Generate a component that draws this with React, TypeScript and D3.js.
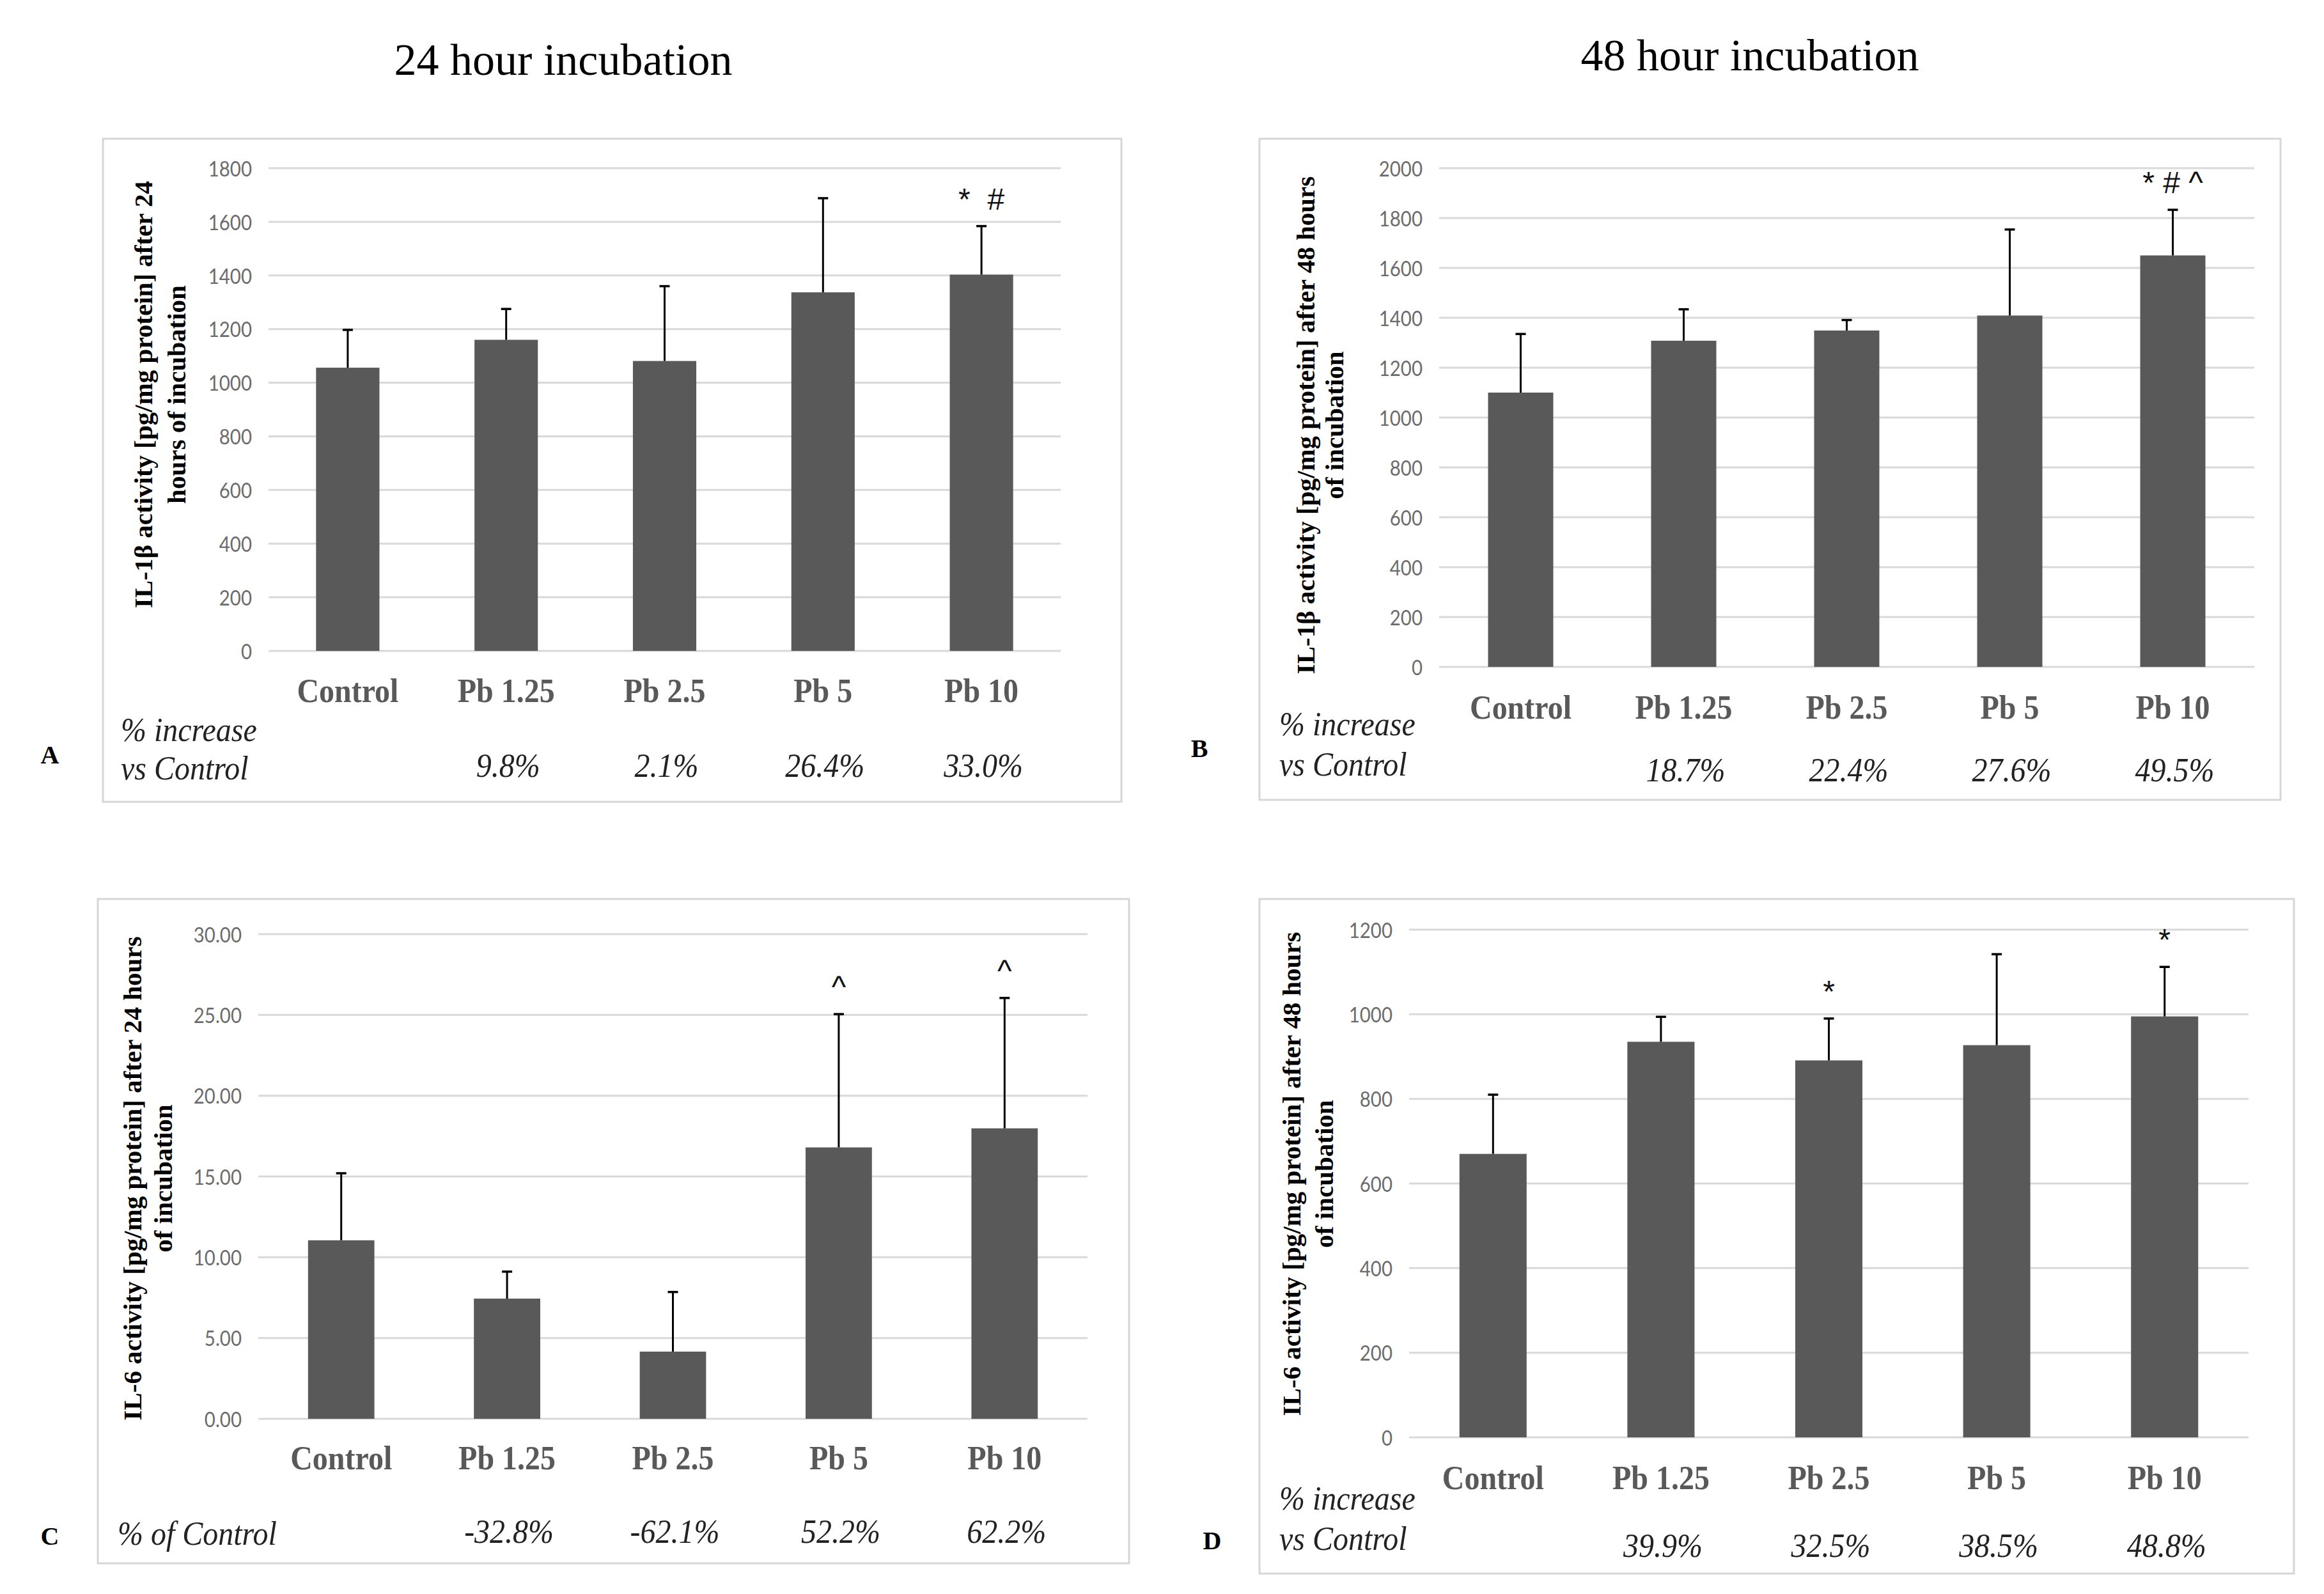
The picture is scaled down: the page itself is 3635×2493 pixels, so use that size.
import React from "react";
import * as d3 from "d3";

// ---------------- DATA ----------------
const categories = ["Control", "Pb 1.25", "Pb 2.5", "Pb 5", "Pb 10"];

// A: IL-1β, 24 h
const il1b24Values = [1056, 1160, 1081, 1337, 1403];
const il1b24Errors = [141, 115, 279, 351, 181];
const il1b24Percents = ["", "9.8%", "2.1%", "26.4%", "33.0%"];
const il1b24Marks = ["", "", "", "", "*  #"];

// B: IL-1β, 48 h
const il1b48Values = [1100, 1308, 1349, 1409, 1650];
const il1b48Errors = [235, 126, 42, 345, 183];
const il1b48Percents = ["", "18.7%", "22.4%", "27.6%", "49.5%"];
const il1b48Marks = ["", "", "", "", "* # ^"];

// C: IL-6, 24 h
const il624Values = [11.05, 7.44, 4.16, 16.8, 17.98];
const il624Errors = [4.15, 1.67, 3.69, 8.25, 8.07];
const il624Percents = ["", "-32.8%", "-62.1%", "52.2%", "62.2%"];
const il624Marks = ["", "", "", "^", "^"];

// D: IL-6, 48 h
const il648Values = [670, 935, 891, 927, 995];
const il648Errors = [140, 59, 99, 215, 117];
const il648Percents = ["", "39.9%", "32.5%", "38.5%", "48.8%"];
const il648Marks = ["", "", "*", "", "*"];

const titles = ["24 hour incubation", "48 hour incubation"];

// ---------------- STYLES ----------------
const BAR = "#595959";
const GRID = "#d9d9d9";
const BORDER = "#d6d6d6";
const TICK = "#6b6b6b";
const SERIF = "'Liberation Serif', 'Times New Roman', serif";
const SANS = "Lato, 'Open Sans', 'Liberation Sans', sans-serif";
const MARKFONT = "'Liberation Sans', Arial, sans-serif";

type PanelCfg = {
  letter: string;
  letterPos: [number, number];
  box: [number, number, number, number];
  plotX: [number, number];
  y0: number;
  yTop: number;
  max: number;
  step: number;
  fmt: (v: number) => string;
  values: number[];
  errors: number[];
  percents: string[];
  marks: string[];
  catY: number;
  rowLabels: string[];
  rowLabelX: number;
  rowLabelY: number[];
  percentY: number;
  yLabel: string[];
  yLabelX: [number, number];
  yLabelY: number;
};

const fmtInt = d3.format("d");
const fmt2 = d3.format(".2f");

const panels: PanelCfg[] = [
  {
    letter: "A",
    letterPos: [78, 1180],
    box: [161, 217, 1754, 1254],
    plotX: [420, 1659],
    y0: 1018,
    yTop: 263,
    max: 1800,
    step: 200,
    fmt: fmtInt,
    values: il1b24Values,
    errors: il1b24Errors,
    percents: il1b24Percents,
    marks: il1b24Marks,
    catY: 1080,
    rowLabels: ["% increase", "vs Control"],
    rowLabelX: 189,
    rowLabelY: [1141, 1201],
    percentY: 1197,
    yLabel: ["IL-1β activity [pg/mg protein] after 24", "hours of incubation"],
    yLabelX: [224, 276],
    yLabelY: 617,
  },
  {
    letter: "B",
    letterPos: [1876, 1170],
    box: [1970, 217, 3567, 1251],
    plotX: [2251, 3526],
    y0: 1043,
    yTop: 263,
    max: 2000,
    step: 200,
    fmt: fmtInt,
    values: il1b48Values,
    errors: il1b48Errors,
    percents: il1b48Percents,
    marks: il1b48Marks,
    catY: 1106,
    rowLabels: ["% increase", "vs Control"],
    rowLabelX: 2001,
    rowLabelY: [1132, 1195],
    percentY: 1204,
    yLabel: ["IL-1β activity [pg/mg protein] after 48 hours", "of incubation"],
    yLabelX: [2042, 2087],
    yLabelY: 665,
  },
  {
    letter: "C",
    letterPos: [78, 2402],
    box: [153, 1406, 1766, 2445],
    plotX: [404, 1701],
    y0: 2219,
    yTop: 1461,
    max: 30,
    step: 5,
    fmt: fmt2,
    values: il624Values,
    errors: il624Errors,
    percents: il624Percents,
    marks: il624Marks,
    catY: 2280,
    rowLabels: ["% of Control"],
    rowLabelX: 184,
    rowLabelY: [2398],
    percentY: 2395,
    yLabel: ["IL-6 activity [pg/mg protein] after 24 hours", "of incubation"],
    yLabelX: [207, 255],
    yLabelY: 1843,
  },
  {
    letter: "D",
    letterPos: [1896, 2409],
    box: [1970, 1406, 3588, 2461],
    plotX: [2204, 3517],
    y0: 2248,
    yTop: 1454,
    max: 1200,
    step: 200,
    fmt: fmtInt,
    values: il648Values,
    errors: il648Errors,
    percents: il648Percents,
    marks: il648Marks,
    catY: 2311,
    rowLabels: ["% increase", "vs Control"],
    rowLabelX: 2001,
    rowLabelY: [2343, 2406],
    percentY: 2417,
    yLabel: ["IL-6 activity [pg/mg protein] after 48 hours", "of incubation"],
    yLabelX: [2020, 2071],
    yLabelY: 1836,
  },
];

function Panel({ cfg }: { cfg: PanelCfg }) {
  const x = d3
    .scaleBand<string>()
    .domain(categories)
    .range(cfg.plotX)
    .paddingInner(0.6)
    .paddingOuter(0.3);
  const y = d3.scaleLinear().domain([0, cfg.max]).range([cfg.y0, cfg.yTop]);
  const ticks = d3.range(0, cfg.max + cfg.step / 2, cfg.step);
  const bw = x.bandwidth();
  const [bx0, by0, bx1, by1] = cfg.box;
  return (
    <g>
      <rect
        x={bx0}
        y={by0}
        width={bx1 - bx0}
        height={by1 - by0}
        fill="none"
        stroke={BORDER}
        strokeWidth={3}
      />
      {ticks.map((t) => (
        <g key={t}>
          <line
            x1={cfg.plotX[0]}
            x2={cfg.plotX[1]}
            y1={y(t)}
            y2={y(t)}
            stroke={GRID}
            strokeWidth={3}
          />
          <text
            transform={`translate(${cfg.plotX[0] - 26},${y(t)}) scale(0.95,1.08)`}
            textAnchor="end"
            dominantBaseline="central"
            fontFamily={SANS}
            fontSize={31}
            fill={TICK}
          >
            {cfg.fmt(t)}
          </text>
        </g>
      ))}
      {categories.map((c, i) => {
        const cx = (x(c) as number) + bw / 2;
        const top = y(cfg.values[i]);
        const errTop = y(cfg.values[i] + cfg.errors[i]);
        return (
          <g key={c}>
            <rect x={x(c)} y={top} width={bw} height={cfg.y0 - top} fill={BAR} />
            <line x1={cx} x2={cx} y1={top} y2={errTop} stroke="#000" strokeWidth={3} />
            <line x1={cx - 8} x2={cx + 8} y1={errTop} y2={errTop} stroke="#000" strokeWidth={3.5} />
            {cfg.marks[i] && (
              <text
                x={cx}
                y={errTop - 26}
                textAnchor="middle"
                fontFamily={MARKFONT}
                fontSize={48}
                fill="#111"
                style={{ whiteSpace: "pre" }}
              >
                {cfg.marks[i]}
              </text>
            )}
            <text
              transform={`translate(${cx},${cfg.catY}) scale(1,1.08)`}
              textAnchor="middle"
              dominantBaseline="central"
              fontFamily={SERIF}
              fontWeight="bold"
              fontSize={48}
              fill={BAR}
            >
              {c}
            </text>
            {cfg.percents[i] && (
              <text
                transform={`translate(${cx + 3},${cfg.percentY}) scale(1,1.08)`}
                textAnchor="middle"
                dominantBaseline="central"
                fontFamily={SERIF}
                fontStyle="italic"
                fontSize={48}
                fill="#222"
              >
                {cfg.percents[i]}
              </text>
            )}
          </g>
        );
      })}
      {cfg.rowLabels.map((l, i) => (
        <text
          key={l}
          transform={`translate(${cfg.rowLabelX},${cfg.rowLabelY[i]}) scale(1,1.08)`}
          dominantBaseline="central"
          fontFamily={SERIF}
          fontStyle="italic"
          fontSize={48}
          fill="#222"
        >
          {l}
        </text>
      ))}
      {cfg.yLabel.map((l, i) => (
        <text
          key={l}
          transform={`translate(${cfg.yLabelX[i]},${cfg.yLabelY}) rotate(-90)`}
          textAnchor="middle"
          dominantBaseline="central"
          fontFamily={SERIF}
          fontWeight="bold"
          fontSize={41}
          fill="#000"
        >
          {l}
        </text>
      ))}
      <text
        x={cfg.letterPos[0]}
        y={cfg.letterPos[1]}
        textAnchor="middle"
        dominantBaseline="central"
        fontFamily={SERIF}
        fontWeight="bold"
        fontSize={40}
        fill="#000"
      >
        {cfg.letter}
      </text>
    </g>
  );
}

export default function App() {
  return (
    <svg
      width={3635}
      height={2493}
      viewBox="0 0 3635 2493"
      style={{ position: "absolute", left: 0, top: 0, background: "#fff" }}
    >
      <rect x={0} y={0} width={3635} height={2493} fill="#fff" />
      <text
        x={881}
        y={93}
        textAnchor="middle"
        dominantBaseline="central"
        fontFamily={SERIF}
        fontSize={70}
        fill="#000"
      >
        {titles[0]}
      </text>
      <text
        x={2737}
        y={86}
        textAnchor="middle"
        dominantBaseline="central"
        fontFamily={SERIF}
        fontSize={70}
        fill="#000"
      >
        {titles[1]}
      </text>
      {panels.map((p) => (
        <Panel key={p.letter} cfg={p} />
      ))}
    </svg>
  );
}
